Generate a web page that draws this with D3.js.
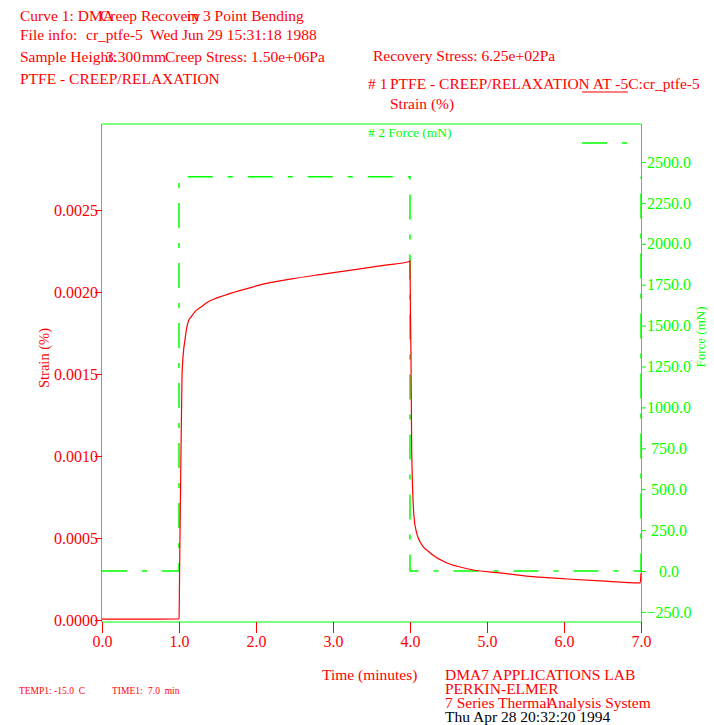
<!DOCTYPE html>
<html>
<head>
<meta charset="utf-8">
<script src="https://cdn.jsdelivr.net/npm/d3@7"></script>
<style>
body { margin: 0; background: #fff; }
text { font-family: "Liberation Serif", "Times New Roman", serif; }
</style>
</head>
<body>
<div class="chart"></div>
<script>
// tick values
var timeTicks = [0, 1, 2, 3, 4, 5, 6, 7];
var strainTicks = [0, 0.0005, 0.0010, 0.0015, 0.0020, 0.0025];
var forceTicks = [-250, 0, 250, 500, 750, 1000, 1250, 1500, 1750, 2000, 2250, 2500];

// curve 1: strain (%) vs time (min)
var strainTime = [0, 0.5, 0.99, 1.0, 1.01, 1.022, 1.039, 1.055, 1.078, 1.1, 1.121, 1.16, 1.208, 1.29, 1.381,
  1.597, 1.8, 2.03, 2.464, 2.896, 3.329, 3.7, 3.99, 4.0, 4.005, 4.012, 4.022, 4.052, 4.087, 4.139,
  4.26, 4.48, 4.65, 4.82, 5.17, 5.6, 6.04, 6.47, 6.99, 7.0];
var strainVal = [0.000005, 0.000005, 0.000006, 0.00001, 0.0004, 0.00087, 0.00148, 0.00162, 0.00171, 0.00178, 0.00182, 0.00185, 0.00188, 0.00191, 0.00194,
  0.00198, 0.00201, 0.00204, 0.00208, 0.00211, 0.00214, 0.002165, 0.002186, 0.00219, 0.0019, 0.00165, 0.00104, 0.00063, 0.00053, 0.00047,
  0.00041, 0.000348, 0.000323, 0.000305, 0.000287, 0.000264, 0.00025, 0.000238, 0.000226, 0.000287];

// curve 2: force (mN) vs time (min)
var forceTime = [0, 1, 1, 4, 4, 7, 7];
var forceVal = [0, 0, 2410, 2410, 0, 0, 2410];

var RED = '#ff0000', GREEN = '#00ff00';

var svg = d3.select('.chart')
    .append('svg')
    .attr('width', 714)
    .attr('height', 725);

var x = d3.scaleLinear().domain([0, 7]).range([102, 641]);
var yStrain = d3.scaleLinear().domain([0, 0.0025]).range([620, 210]);
var yForce = d3.scaleLinear().domain([0, 2500]).range([571, 162]);

function drawText(txt, tx, ty, size, color) {
  return svg.append('text')
      .attr('x', tx)
      .attr('y', ty)
      .attr('font-size', size)
      .attr('fill', color)
      .style('white-space', 'pre')
      .text(txt);
}

function drawLine(x1, y1, x2, y2, color, dash) {
  svg.append('line')
      .attr('x1', x1).attr('y1', y1)
      .attr('x2', x2).attr('y2', y2)
      .attr('stroke', color)
      .attr('stroke-width', dash ? 1.5 : 1.2)
      .attr('stroke-dasharray', dash || null);
}

// header
drawText('Curve 1: DMA', 20, 20.5, 15.5, RED);
drawText('Creep Recovery', 100, 20.5, 15.5, RED);
drawText('in 3 Point Bending', 187, 20.5, 15.5, RED);
drawText('File info:', 20, 40, 15.5, RED);
drawText('cr_ptfe-5', 86, 40, 15.5, RED);
drawText('Wed Jun 29 15:31:18 1988', 150, 40, 15.5, RED);
drawText('Sample Height:', 20, 62, 15.5, RED);
drawText('3.300', 106, 62, 15.5, RED);
drawText('mm', 142, 62, 15.5, RED);
drawText('Creep Stress: 1.50e+06Pa', 165, 62, 15.5, RED);
drawText('PTFE - CREEP/RELAXATION', 20, 84, 15.5, RED);
drawText('Recovery Stress: 6.25e+02Pa', 373, 61, 15.5, RED);
drawText('# 1', 368, 89, 15.5, RED);
drawText('PTFE - CREEP/RELAXATION AT -5C:cr_ptfe-5', 390, 89, 15.5, RED);
drawText('Strain (%)', 390, 109, 15.5, RED);
drawText('# 2 Force (mN)', 368, 137, 13.5, GREEN);

// legend samples
var dashForce = '25,15,5,15';
drawLine(582, 92, 628, 92, RED);
drawLine(582, 143, 627, 143, GREEN, dashForce);

// frame
svg.append('line').attr('x1', 102).attr('y1', 124).attr('x2', 641).attr('y2', 124).attr('stroke', GREEN);
svg.append('line').attr('x1', 102).attr('y1', 622).attr('x2', 641).attr('y2', 622).attr('stroke', GREEN);
svg.append('line').attr('x1', 101.5).attr('y1', 124).attr('x2', 101.5).attr('y2', 622).attr('stroke', GREEN);
svg.append('line').attr('x1', 641.5).attr('y1', 124).attr('x2', 641.5).attr('y2', 622).attr('stroke', GREEN);

// axes
var xAxis = svg.append('g')
    .attr('transform', 'translate(0,622)')
    .call(d3.axisBottom(x).tickValues(timeTicks).tickFormat(d3.format('.1f')).tickSize(11));
xAxis.select('.domain').remove();
xAxis.selectAll('line').attr('stroke', RED);
xAxis.selectAll('text').attr('fill', RED).attr('font-size', 16).attr('font-family', null);

var yAxisL = svg.append('g')
    .attr('transform', 'translate(102,0)')
    .call(d3.axisLeft(yStrain).tickValues(strainTicks).tickFormat(d3.format('.4f')).tickSize(7).tickPadding(-3));
yAxisL.select('.domain').remove();
yAxisL.selectAll('line').attr('stroke', RED);
yAxisL.selectAll('text').attr('fill', RED).attr('font-size', 16).attr('font-family', null);

var yAxisR = svg.append('g')
    .attr('transform', 'translate(641,0)')
    .call(d3.axisRight(yForce).tickValues(forceTicks).tickFormat(d3.format('.1f')).tickSize(5));
yAxisR.select('.domain').remove();
yAxisR.selectAll('line').attr('stroke', GREEN);
yAxisR.selectAll('text').attr('fill', GREEN).attr('font-size', 16).attr('font-family', null)
    .attr('x', 28).attr('text-anchor', 'middle');

// axis titles
svg.append('text')
    .attr('transform', 'translate(49,358) rotate(-90)')
    .attr('text-anchor', 'middle')
    .attr('font-size', 14.5)
    .attr('fill', RED)
    .text('Strain (%)');
svg.append('text')
    .attr('transform', 'translate(705,337) rotate(-90)')
    .attr('text-anchor', 'middle')
    .attr('font-size', 13)
    .attr('fill', GREEN)
    .text('Force (mN)');
drawText('Time (minutes)', 322, 680, 15.5, RED);

// force curve
var forceLine = d3.line()
    .x(function(d) { return x(forceTime[d]); })
    .y(function(d) { return yForce(forceVal[d]); });
svg.append('path')
    .attr('d', forceLine(d3.range(forceTime.length)))
    .attr('fill', 'none')
    .attr('stroke', GREEN)
    .attr('stroke-width', 1.5)
    .attr('stroke-dasharray', dashForce);

// strain curve
var strainLine = d3.line()
    .curve(d3.curveMonotoneX)
    .x(function(d) { return x(strainTime[d]); })
    .y(function(d) { return yStrain(strainVal[d]); });
svg.append('path')
    .attr('d', strainLine(d3.range(strainTime.length)))
    .attr('fill', 'none')
    .attr('stroke', RED)
    .attr('stroke-width', 1.2);

// footer
drawText('TEMP1: -15.0  C', 19, 694, 9.5, RED);
drawText('TIME1:', 112, 694, 9.5, RED);
drawText('7.0  min', 148, 694, 9.5, RED);
drawText('DMA7 APPLICATIONS LAB', 445, 680, 15.5, RED);
drawText('PERKIN-ELMER', 445, 694, 15.5, RED);
drawText('7 Series Thermal', 445, 708, 15.5, RED);
drawText('Analysis System', 547, 708, 15.5, RED);
drawText('Thu Apr 28 20:32:20 1994', 445, 722, 15.5, '#000');
</script>
</body>
</html>
